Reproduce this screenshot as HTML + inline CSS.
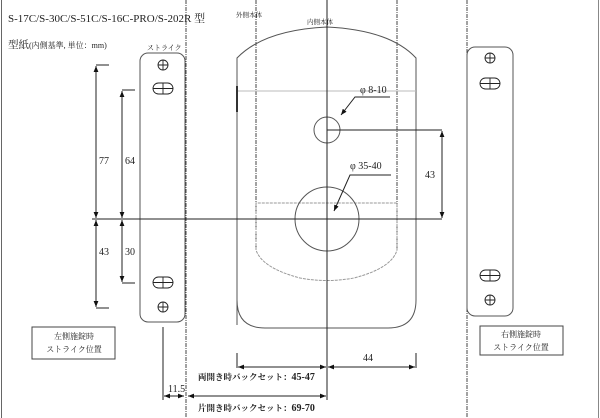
<!DOCTYPE html>
<html><head><meta charset="utf-8"><style>
body{margin:0;background:#fff;}
svg{display:block;}
text{font-family:"Liberation Serif","Noto Serif CJK SC",serif;fill:#222;}
</style></head><body>
<svg width="600" height="418" viewBox="0 0 600 418" xmlns="http://www.w3.org/2000/svg">
<defs>
<marker id="a" viewBox="0 0 10 10" refX="10" refY="5" markerWidth="6" markerHeight="6" orient="auto-start-reverse"><path d="M0,1 L10,5 L0,9z" fill="#111"/></marker>
</defs>
<rect width="600" height="418" fill="#fff"/>
<line x1="1.5" y1="0" x2="1.5" y2="418" stroke="#666"/>
<line x1="598.5" y1="0" x2="598.5" y2="418" stroke="#888"/>
<g stroke="#444" stroke-width="1" stroke-dasharray="4,1,1,1" fill="none">
<line x1="186" y1="0" x2="186" y2="418"/>
<line x1="256" y1="0" x2="256" y2="250"/>
<line x1="397" y1="0" x2="397" y2="250"/>
<line x1="467" y1="0" x2="467" y2="418"/>
</g>
<text x="8" y="22" font-size="11">S-17C/S-30C/S-51C/S-16C-PRO/S-202R 型</text>
<text x="8" y="48" font-size="10.5">型紙<tspan font-size="8">(内側基準, 単位：mm)</tspan></text>
<text x="147" y="50" font-size="7">ストライク</text>
<text x="236" y="17" font-size="6.5">外側本体</text>
<text x="307" y="24" font-size="6.5">内側本体</text>
<g stroke="#555" fill="none" stroke-width="1">
<path d="M237,325 V300 Q237,328 265,328 H388 Q416,328 416,300 V58 Q390,30 327,27 Q264,30 237,58 V300"/>
<line x1="237" y1="91" x2="416" y2="91" stroke="#bbb"/>
<path d="M256,203 V250 Q262,268 300,278 Q327,283 354,278 Q392,268 397,250 V203 Z" stroke="#999" stroke-dasharray="3,1"/>
<circle cx="327" cy="130" r="13"/>
<circle cx="327" cy="219" r="32"/>
<rect x="140" y="53" width="45" height="269" rx="8"/>
<rect x="467" y="47" width="46" height="269" rx="8"/>
<rect x="32" y="327" width="83" height="32" stroke="#444"/>
<rect x="480" y="326" width="83" height="29" stroke="#444"/>
</g>
<line x1="237" y1="86" x2="237" y2="112" stroke="#333" stroke-width="2"/>
<g stroke="#222" fill="none" stroke-width="0.9">
<circle cx="163" cy="65" r="5"/><path d="M158,65H168M163,60V70"/>
<rect x="153" y="83" width="20" height="11" rx="5.5"/><path d="M153,88.5H173M163,83V94"/>
<rect x="153" y="277" width="20" height="11" rx="5.5"/><path d="M153,282.5H173M163,277V288"/>
<circle cx="163" cy="307" r="5"/><path d="M158,307H168M163,302V312"/>
<circle cx="490" cy="58" r="5"/><path d="M485,58H495M490,53V63"/>
<rect x="480" y="78" width="20" height="11" rx="5.5"/><path d="M480,83.5H500M490,78V89"/>
<rect x="480" y="270" width="20" height="11" rx="5.5"/><path d="M480,275.5H500M490,270V281"/>
<circle cx="490" cy="300" r="5"/><path d="M485,300H495M490,295V305"/>
</g>
<g stroke="#222" stroke-width="1" fill="none">
<line x1="327" y1="0" x2="327" y2="400"/>
<line x1="92" y1="219" x2="442" y2="219"/>
<line x1="327" y1="130" x2="442" y2="130"/>
<line x1="96" y1="65" x2="109" y2="65"/>
<line x1="96" y1="308" x2="109" y2="308"/>
<line x1="122" y1="90" x2="135" y2="90"/>
<line x1="122" y1="283" x2="135" y2="283"/>
<line x1="96" y1="66" x2="96" y2="218" marker-start="url(#a)" marker-end="url(#a)"/>
<line x1="96" y1="220" x2="96" y2="307" marker-start="url(#a)" marker-end="url(#a)"/>
<line x1="122" y1="91" x2="122" y2="218" marker-start="url(#a)" marker-end="url(#a)"/>
<line x1="122" y1="220" x2="122" y2="282" marker-start="url(#a)" marker-end="url(#a)"/>
<line x1="442" y1="131" x2="442" y2="218" marker-start="url(#a)" marker-end="url(#a)"/>
<path d="M390,97 H355 L341,115" marker-end="url(#a)"/>
<path d="M391,175 H350 L334,211" marker-end="url(#a)"/>
<line x1="237" y1="353" x2="237" y2="368"/>
<line x1="416" y1="353" x2="416" y2="368"/>
<line x1="238" y1="367" x2="326" y2="367" marker-start="url(#a)" marker-end="url(#a)"/>
<line x1="328" y1="367" x2="415" y2="367" marker-start="url(#a)" marker-end="url(#a)"/>
<line x1="163" y1="327" x2="163" y2="400"/>
<line x1="164" y1="396" x2="184" y2="396" marker-start="url(#a)" marker-end="url(#a)"/>
<line x1="188" y1="396" x2="326" y2="396" marker-start="url(#a)" marker-end="url(#a)"/>
</g>
<g font-size="10">
<text x="99" y="164">77</text><text x="125" y="164">64</text>
<text x="99" y="255">43</text><text x="125" y="255">30</text>
<text x="425" y="178">43</text>
<text x="363" y="361">44</text>
<text x="168" y="392">11.5</text>
<text x="360" y="93">φ 8-10</text>
<text x="350" y="169">φ 35-40</text>
</g>
<g font-size="8.5" font-weight="bold">
<text x="198" y="380">両開き時バックセット：<tspan font-size="10">45-47</tspan></text>
<text x="198" y="411">片開き時バックセット：<tspan font-size="10">69-70</tspan></text>
</g>
<g font-size="8" text-anchor="middle">
<text x="74" y="339">左側施錠時</text><text x="74" y="352">ストライク位置</text>
<text x="521" y="337">右側施錠時</text><text x="521" y="350">ストライク位置</text>
</g>
</svg>
</body></html>
